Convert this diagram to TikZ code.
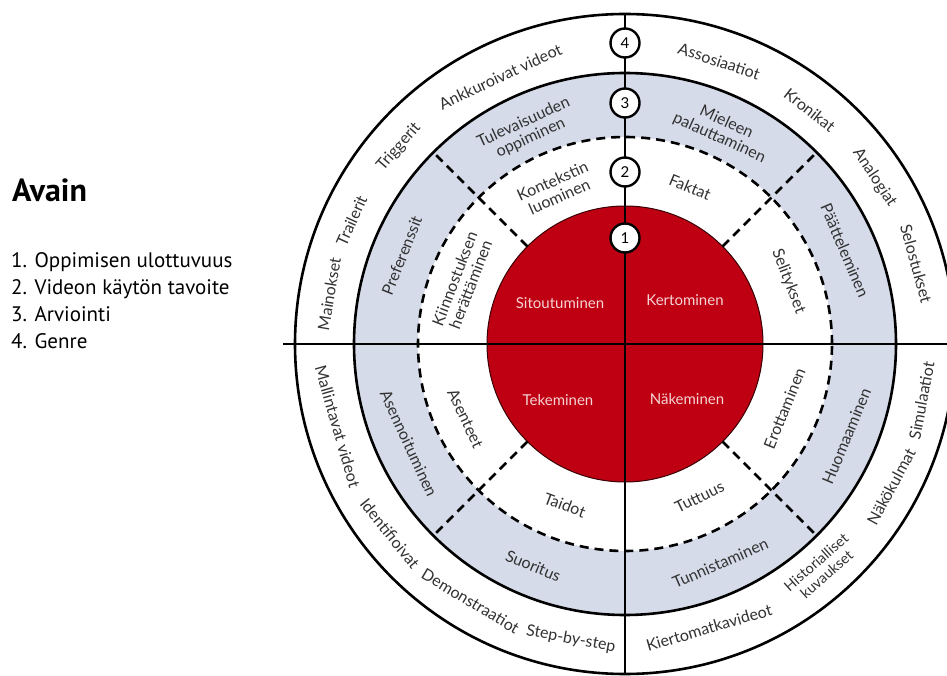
\documentclass[tikz,border=0pt]{standalone}
\usepackage{fontspec}
\setmainfont{Lato}
\newfontfamily\keyfont{PT Sans}
\usetikzlibrary{positioning}

\definecolor{bandgrey}{RGB}{214,219,233}
\definecolor{wheelred}{RGB}{190,0,18}
\definecolor{labelgrey}{RGB}{50,50,50}
\definecolor{redtext}{RGB}{246,212,212}

\tikzset{
	ringline/.style={line width=2.6pt},
	dashline/.style={line width=2.6pt, dash pattern=on 9pt off 6pt},
	numcircle/.style={circle, draw, line width=2.4pt, fill=white, minimum size=29pt, inner sep=0pt, font=\fontsize{15}{15}\selectfont},
	ringtext/.style={text=labelgrey, font=\fontsize{16}{17}\selectfont, align=center, inner sep=1pt},
	redlabel/.style={text=redtext, font=\fontsize{15}{16}\selectfont},
	keyline/.style={inner sep=0pt, text height=15pt, text depth=4pt, font=\keyfont\fontsize{21}{21}\selectfont}
}

\begin{document}
\begin{tikzpicture}[x=1pt, y=1pt]
		\useasboundingbox (0,0) rectangle (947,675);
		\clip (0,0) rectangle (947,675);
		\fill[white] (0,0) rectangle (947,675);

		% key
		\node[anchor=base west, inner sep=0pt, font=\keyfont\bfseries\fontsize{32}{32}\selectfont] (avain) at (12,473) {Avain};
		\node[keyline, anchor=north west] (key1) at (11,423) {1. Oppimisen ulottuvuus};
		\node[keyline, below=7.7pt of key1.south west, anchor=north west] (key2) {2. Videon käytön tavoite};
		\node[keyline, below=7.7pt of key2.south west, anchor=north west] (key3) {3. Arviointi};
		\node[keyline, below=7.7pt of key3.south west, anchor=north west] (key4) {4. Genre};

		\begin{scope}[shift={(625,331)}]
			% rings
			\fill[bandgrey] (0,0) circle (271);
			\fill[white] (0,0) circle (207);
			\fill[wheelred] (0,0) circle (138);
			\draw[ringline] (0,0) circle (330);
			\draw[ringline] (0,0) circle (271);
			\draw[dashline] (0,0) circle (207);
			\draw[line width=1pt, black!70!wheelred] (0,0) circle (138);

			% axes and separators
			\draw[ringline] (-342,0) -- (330,0);
			\draw[ringline] (0,330) -- (0,-330);
			\draw[dashline] (45:138) -- (45:271);
			\draw[dashline] (135:138) -- (135:271);
			\draw[dashline] (225:138) -- (225:271);
			\draw[dashline] (315:138) -- (315:271);

			% numbers
			\node[numcircle] (num4) at (0,301) {4};
			\node[numcircle] (num3) at (0,241) {3};
			\node[numcircle] (num2) at (0,172) {2};
			\node[numcircle] (num1) at (0,106) {1};

			% 1. oppimisen ulottuvuus
			\node[redlabel] (sitoutuminen) at (-65,41) {Sitoutuminen};
			\node[redlabel] (kertominen) at (60,44) {Kertominen};
			\node[redlabel] (tekeminen) at (-67,-56) {Tekeminen};
			\node[redlabel] (nakeminen) at (62,-55) {Näkeminen};

			% 2. videon kayton tavoite
			\node[ringtext, rotate=24] (konteksti) at (114:170) {Kontekstin\\luominen};
			\node[ringtext, rotate=-22.5] (faktat) at (67.5:170) {Faktat};
			\node[ringtext, rotate=-69] (selitykset) at (21:175) {Selitykset};
			\node[ringtext, rotate=69] (kiinnostus) at (159:174) {Kiinnostuksen\\herättäminen};
			\node[ringtext, rotate=-65] (asenteet) at (205:176) {Asenteet};
			\node[ringtext, rotate=-20.5] (taidot) at (249.5:172) {Taidot};
			\node[ringtext, rotate=26] (tuttuus) at (296:170) {Tuttuus};
			\node[ringtext, rotate=68] (erottaminen) at (338:172) {Erottaminen};

			% 3. arviointi
			\node[ringtext, rotate=24.6] (tulevaisuus) at (114.6:235) {Tulevaisuuden\\oppiminen};
			\node[ringtext, rotate=-24.6] (mieleen) at (65.4:235) {Mieleen\\palauttaminen};
			\node[ringtext, rotate=-67] (paattely) at (23:239) {Päätteleminen};
			\node[ringtext, rotate=68.4] (preferenssit) at (158.4:240) {Preferenssit};
			\node[ringtext, rotate=-65.3] (asennoituminen) at (204.7:238) {Asennoituminen};
			\node[ringtext, rotate=-22.5] (suoritus) at (247.5:240) {Suoritus};
			\node[ringtext, rotate=23.5] (tunnistaminen) at (293.5:239) {Tunnistaminen};
			\node[ringtext, rotate=67.4] (huomaaminen) at (337.4:240) {Huomaaminen};

			% 4. genre
			\node[ringtext, rotate=25] (ankkuroivat) at (115:295) {Ankkuroivat videot};
			\node[ringtext, rotate=48.9] (triggerit) at (138.9:300) {Triggerit};
			\node[ringtext, rotate=65.7] (trailerit) at (155.7:300) {Trailerit};
			\node[ringtext, rotate=80.4] (mainokset) at (170.4:300) {Mainokset};
			\node[ringtext, rotate=-18.4] (assosiaatiot) at (71.6:298) {Assosiaatiot};
			\node[ringtext, rotate=-38.3] (kronikat) at (51.7:298) {Kronikat};
			\node[ringtext, rotate=-56.3] (analogiat) at (33.7:300) {Analogiat};
			\node[ringtext, rotate=-74.6] (selostukset) at (15.4:302) {Selostukset};
			\node[ringtext, rotate=79.2] (simulaatiot) at (349.2:302) {Simulaatiot};
			\node[ringtext, rotate=61.8] (nakokulmat) at (331.8:302) {Näkökulmat};
			\node[ringtext, rotate=41.2, font=\fontsize{14.5}{16}\selectfont] (historialliset) at (311.2:298) {Historialliset\\kuvaukset};
			\node[ringtext, rotate=16.5] (kiertomatka) at (286.5:296) {Kiertomatkavideot};
			\node[ringtext, rotate=-10.4] (stepbystep) at (259.6:300) {Step-by-step};
			\node[ringtext, rotate=-31] (demonstraatiot) at (239:300) {Demonstraatiot};
			\node[ringtext, rotate=-51.1] (identifioivat) at (218.9:302) {Identifioivat};
			\node[ringtext, rotate=-74] (mallintavat) at (196:299) {Mallintavat videot};
		\end{scope}
	\end{tikzpicture}
\end{document}
